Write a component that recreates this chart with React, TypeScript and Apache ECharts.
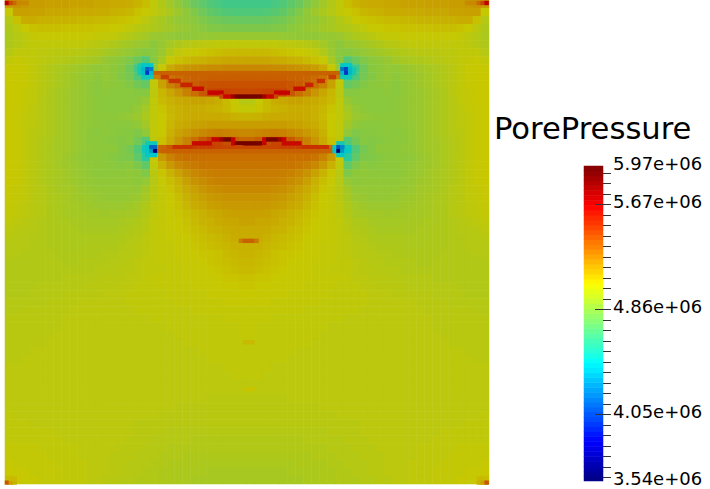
import React, { useEffect, useRef } from "react";
import * as echarts from "echarts";

// Pressure readings in units of 1e4 Pa. The field is mirror-symmetric about x≈247, so each row holds the left half.
const leftHalfRows: number[][] = [
[520,522,520,519,519,518,518,518,517,517,517,516,516,515,515,514,512,509,503,499,494,489,484,478,474,470,467,465,465,465],
[505,518,518,517,517,516,516,516,515,515,515,514,514,513,512,511,508,505,503,500,497,493,489,484,479,475,472,470,469,469],
[500,508,514,514,513,513,512,512,512,511,511,510,510,509,508,507,505,502,499,496,493,490,489,487,484,481,479,478,477,477],
[498,502,506,508,509,509,509,508,508,508,508,507,507,506,505,503,501,499,498,496,494,492,491,489,487,485,484,483,483,483],
[497,500,502,504,505,505,505,505,505,505,505,504,504,503,501,499,497,495,492,491,490,489,489,489,490,490,491,491,491,491],
[498,500,502,503,503,503,503,503,503,503,502,501,500,498,496,494,492,491,488,491,495,498,500,501,502,502,503,503,503,503],
[500,503,503,503,502,502,501,501,501,500,499,498,496,494,492,490,488,486,487,492,499,503,505,506,507,508,509,510,510,510],
[503,505,504,503,502,501,500,499,498,497,496,494,491,489,487,484,478,470,486,496,505,508,510,512,513,514,515,516,516,516],
[505,506,505,503,501,499,497,496,494,493,491,489,490,488,486,479,465,452,490,505,515,519,521,522,523,524,524,525,525,525],
[506,506,505,503,501,499,497,495,493,491,490,488,490,488,485,481,470,462,504,522,531,534,536,537,537,538,538,538,538,538],
[506,506,505,503,501,499,497,495,493,491,489,487,489,488,487,485,480,476,503,517,527,533,537,539,541,542,542,542,542,542],
[506,506,504,503,501,498,496,494,492,491,489,487,488,487,487,487,486,486,502,511,516,521,527,533,540,546,547,547,546,545],
[506,506,504,503,500,498,496,494,492,491,489,488,487,487,487,487,488,491,503,510,513,515,516,517,517,516,514,510,505,500],
[506,505,504,502,500,498,496,494,492,491,489,488,487,487,487,488,490,495,503,507,511,513,514,514,514,513,512,510,507,504],
[506,505,503,502,500,498,496,494,492,491,489,488,488,488,489,490,492,497,503,506,510,513,514,515,515,515,515,514,513,512],
[506,505,503,502,500,498,496,494,492,490,489,488,488,487,487,487,489,494,503,506,511,514,516,517,518,519,519,519,519,519],
[506,505,503,501,500,498,496,494,492,490,488,487,488,487,486,486,484,489,503,506,513,517,520,523,525,527,528,527,526,525],
[506,505,503,501,499,497,495,494,492,490,488,488,487,486,485,486,480,470,502,508,515,521,527,533,540,546,546,542,538,535],
[506,505,503,501,499,497,495,494,492,490,489,488,488,488,485,481,470,450,495,535,540,545,548,548,548,548,546,545,545,545],
[506,505,503,501,499,497,495,493,491,489,488,488,487,486,484,483,474,458,505,520,527,531,533,533,533,533,533,533,533,533],
[506,505,503,501,499,497,495,493,492,490,489,488,488,487,486,487,483,474,503,513,520,525,528,530,531,531,531,531,531,531],
[506,505,503,501,499,497,496,494,492,491,489,488,488,488,488,489,488,484,501,507,512,517,522,525,527,528,529,529,529,529],
[506,505,503,501,499,497,496,494,493,491,490,489,489,489,489,489,488,490,500,505,509,513,518,522,524,526,527,527,527,527],
[505,504,503,501,500,498,496,495,494,492,491,490,490,490,490,490,490,494,501,504,507,511,515,518,521,523,524,525,525,525],
[505,504,503,501,500,498,497,496,494,493,492,491,490,490,490,491,492,496,501,504,506,509,513,516,518,520,521,522,522,522],
[504,503,502,501,500,498,497,496,495,494,493,492,492,492,492,493,495,498,502,504,506,508,511,514,516,518,519,520,520,520],
[504,503,502,501,500,498,497,496,495,495,494,494,493,494,494,495,496,499,502,504,505,507,509,511,513,515,516,517,518,518],
[503,502,501,500,499,498,497,497,496,496,495,495,495,495,496,497,498,500,503,504,505,506,508,510,512,513,515,516,516,517],
[502,501,500,500,499,498,498,497,497,496,496,496,496,496,497,498,499,501,503,504,505,506,507,509,510,512,513,514,515,515],
[501,500,500,499,499,498,498,497,497,497,497,497,497,497,498,499,500,502,503,504,505,505,506,508,509,510,511,513,514,514],
[500,500,500,499,499,498,498,498,497,497,498,498,498,498,499,500,501,502,503,504,504,505,505,507,508,509,510,511,513,513],
[500,500,499,499,499,499,498,498,498,498,498,498,499,499,500,500,501,502,503,504,504,505,505,506,507,507,508,510,511,512],
[499,499,499,499,499,499,499,498,498,499,499,499,499,500,500,501,502,503,503,504,504,504,505,505,506,507,508,509,510,511],
[499,499,499,499,499,499,499,499,499,499,499,500,500,500,501,501,502,503,503,503,504,504,505,505,505,506,507,508,509,510],
[499,499,499,499,499,499,499,500,500,500,500,500,501,501,501,502,502,503,504,504,504,504,505,505,505,505,506,507,507,508],
[499,499,499,499,500,500,500,500,500,500,501,501,501,501,502,502,503,503,503,504,504,504,504,505,505,505,505,506,506,507],
[499,499,499,500,500,500,500,501,501,501,501,501,502,502,502,503,503,503,503,503,504,504,504,504,504,505,505,505,505,506],
[500,500,500,500,500,501,501,501,501,502,502,502,502,502,502,503,503,503,503,503,503,504,504,504,504,504,504,505,505,505],
[500,500,501,501,501,501,501,501,502,502,502,502,502,502,502,502,503,503,503,503,503,503,503,504,504,504,504,504,504,504],
[501,501,501,501,501,501,501,502,502,502,502,502,502,502,502,502,502,502,503,503,503,503,503,503,503,503,503,504,504,504],
[501,501,501,501,501,501,501,502,502,502,502,502,502,502,502,502,502,502,502,502,503,503,503,503,503,503,503,503,503,504],
[501,501,501,501,501,501,502,502,502,502,502,502,502,502,502,502,502,502,502,502,502,503,503,503,503,503,503,503,503,504],
[501,501,501,501,501,502,502,502,502,502,502,502,502,502,502,502,502,502,502,502,502,502,503,503,503,503,503,503,503,503],
[501,501,501,502,502,502,502,502,502,502,502,502,502,502,502,502,502,502,502,502,502,502,502,502,503,503,503,503,503,503],
[501,501,502,502,502,502,502,502,502,502,502,502,502,502,502,502,502,502,502,502,502,502,502,502,502,503,503,503,503,503],
[502,502,502,502,502,502,502,502,502,502,502,502,502,502,502,502,502,502,502,502,502,502,502,502,502,502,502,503,503,503],
[502,502,502,502,502,502,502,502,502,502,502,502,502,502,502,502,502,502,502,502,502,502,502,502,502,502,502,502,503,503],
[502,502,502,502,502,502,502,502,502,502,502,502,502,502,502,502,502,502,502,502,502,502,502,502,502,502,502,502,502,502],
[502,502,502,502,502,502,502,502,502,502,502,502,502,502,502,502,502,502,502,502,502,502,502,502,502,502,502,502,502,502],
[502,502,502,502,502,502,502,502,502,502,502,502,502,502,502,502,502,502,502,502,502,502,502,502,502,501,501,501,501,501],
[502,502,502,502,502,502,502,502,502,502,502,502,502,502,502,502,502,502,502,502,502,501,501,501,501,501,501,501,501,501],
[503,502,502,502,502,502,502,502,502,502,502,502,502,502,502,502,502,502,502,501,501,501,501,501,501,501,501,501,501,501],
[503,503,503,502,502,502,502,502,502,502,502,502,502,502,502,502,501,501,501,501,501,501,501,501,501,501,501,501,501,501],
[503,503,503,503,503,503,502,502,502,502,502,502,502,502,502,502,501,501,501,501,500,500,500,500,500,500,500,500,500,500],
[503,503,503,503,503,503,503,502,502,502,502,502,502,502,502,501,501,501,500,500,500,500,500,499,499,499,499,499,499,499],
[504,504,504,504,503,503,503,503,503,502,502,502,502,502,501,501,501,500,500,500,499,499,499,499,499,499,499,499,499,499],
[504,504,504,504,504,503,503,503,503,502,502,502,502,501,501,501,500,500,500,499,499,499,498,498,498,498,498,498,498,498],
[505,504,504,504,504,504,503,503,503,503,502,502,502,501,501,500,500,500,499,499,498,498,498,498,497,497,497,497,497,497],
[506,505,505,504,504,504,504,503,503,503,502,502,502,501,501,500,500,499,499,498,498,497,497,497,497,496,496,496,496,496],
[509,506,505,505,504,504,504,503,503,503,502,502,501,501,500,500,499,499,499,498,498,497,497,496,496,496,496,496,496,496],
];

// Fine-mesh features: [first column, last column, row, value in 1e4 Pa]
const upperCrackRuns: number[][] = [
[38,85,18,537],[38,39,19,528],[40,41,19,548],[83,84,19,548],[85,85,19,528],
[42,44,20,552],[80,81,20,552],[45,47,21,556],[77,78,21,556],[48,50,22,563],[74,76,22,563],
[52,55,23,567],[69,72,23,567],[55,55,24,545],[56,57,24,565],[58,58,24,580],[59,65,24,592],
[66,66,24,580],[67,68,24,565],[69,69,24,545],
];
const lowerCrackRuns: number[][] = [
[53,54,35,567],[55,55,35,580],[56,57,35,592],[58,58,35,567],[66,66,35,567],[67,69,35,590],[70,70,35,578],[71,71,35,567],
[48,52,36,564],[58,58,36,567],[59,65,36,592],[66,66,36,567],[71,75,36,564],
[43,47,37,552],[59,60,37,545],[66,67,37,545],[76,82,37,552],[40,83,38,537],
];
const wellSpotRuns: number[][] = [
[34,34,16,455],[35,37,16,445],[34,34,17,450],[35,35,17,440],[36,36,17,413],[37,37,17,422],
[34,34,18,452],[35,35,18,442],[36,36,18,400],[37,37,18,440],[35,37,19,450],
[86,88,16,445],[86,86,17,420],[87,87,17,405],[88,88,17,440],[89,89,17,450],
[86,86,18,440],[87,87,18,400],[88,88,18,440],[89,89,18,452],[86,88,19,450],
[36,38,36,450],[36,36,37,445],[37,38,37,415],[36,36,38,445],[37,37,38,430],[38,38,38,360],[36,38,39,445],
[85,86,36,450],[84,84,37,445],[85,85,37,410],[86,86,37,425],[84,84,38,445],[85,85,38,360],[86,86,38,430],[87,87,38,445],[85,86,39,445],
];
const smallMarkRuns: number[][] = [
[60,60,61,530],[61,63,61,537],[64,64,61,530],[61,63,87,510],[61,63,99,507],
[0,0,0,570],[1,1,0,545],[2,2,0,535],[3,5,0,525],[118,120,0,525],[121,121,0,535],[122,122,0,545],[123,123,0,570],
[0,0,123,540],[1,1,123,518],[2,2,123,512],[1,2,122,510],[121,122,122,510],[121,121,123,512],[122,122,123,518],[123,123,123,540],
];

const colorbarLevels = [356,360,364,367,371,375,379,383,386,390,394,398,402,405,409,413,417,421,424,428,432,436,440,443,447,451,455,459,462,466,470,474,478,481,485,489,493,497,500,504,508,512,516,519,523,527,531,535,538,542,546,550,554,557,561,565,569,573,576,580,584,588,592,595];
const majorTickValues = [567, 486, 405];
const minorTickValues = [591.3, 583.2, 575.1, 558.9, 550.8, 542.7, 534.6, 526.5, 518.4, 510.3, 502.2, 494.1, 477.9, 469.8, 461.7, 453.6, 445.5, 437.4, 429.3, 421.2, 413.1, 396.9, 388.8, 380.7, 372.6, 364.5, 356.4];
const labelValues = [597, 567, 486, 405, 354];
const labelTexts = ["5.97e+06", "5.67e+06", "4.86e+06", "4.05e+06", "3.54e+06"];
const titleText = "PorePressure";

const jetBright = ["#000080","#0000ff","#0080ff","#00ffff","#80ff80","#ffff00","#ff8000","#ff0000","#800000"];
const jetLit = ["#000064","#0000c8","#0064c8","#00c8c8","#64c864","#c8c800","#c86400","#c80000","#640000"];

const range = (n: number) => Array.from({ length: n }, (_, i) => String(i));

export default function App() {
  const ref = useRef<HTMLDivElement>(null);
  useEffect(() => {
    document.body.style.margin = "0";
    const chart = echarts.init(ref.current!, undefined, { renderer: "svg" });
    const rows = leftHalfRows.map((r) => [...r, ...[...r].reverse()]);
    const baseData: number[][] = [];
    rows.forEach((r, y) => r.forEach((v, x) => baseData.push([x, y, v])));
    const fineData: number[][] = [];
    [...upperCrackRuns, ...lowerCrackRuns, ...wellSpotRuns, ...smallMarkRuns].forEach(([a, b, y, v]) => {
      for (let x = a; x <= b; x++) fineData.push([x, y, v]);
    });
    const barData = colorbarLevels.map((v, i) => [0, i, v]);
    const hidden = { show: false };
    const heat = { type: "heatmap", progressive: 0, silent: true, emphasis: { disabled: true } };
    const tickRender = (_: any, api: any) => {
      const a = api.coord([api.value(0), api.value(1)]);
      const b = api.coord([1.42, api.value(1)]);
      const y = Math.round(a[1]) + 0.5;
      return {
        type: "line",
        shape: { x1: a[0], y1: y, x2: b[0], y2: y },
        style: { stroke: "#333333", lineWidth: 1 },
      };
    };
    chart.setOption({
      animation: false,
      backgroundColor: "#ffffff",
      title: {
        text: titleText, left: 489, top: 108,
        textStyle: { fontFamily: "DejaVu Sans", fontSize: 30.6, fontWeight: "normal", color: "#000" },
      },
      grid: [
        { left: 5, top: 0, width: 484, height: 484 },
        { left: 5, top: 1, width: 483.6, height: 483.6 },
        { left: 584, top: 166, width: 19, height: 315 },
        { left: 584, top: 165.4, width: 19, height: 315 },
        { left: 584, top: 163, width: 19, height: 315 },
      ],
      xAxis: [
        { type: "category", gridIndex: 0, data: range(60), ...hidden },
        { type: "category", gridIndex: 1, data: range(124), ...hidden },
        { type: "category", gridIndex: 2, data: ["0"], ...hidden },
        { type: "value", gridIndex: 3, min: 0, max: 1, ...hidden },
        { type: "value", gridIndex: 4, min: 0, max: 1, ...hidden },
      ],
      yAxis: [
        { type: "category", gridIndex: 0, data: range(60), inverse: true, ...hidden },
        { type: "category", gridIndex: 1, data: range(124), inverse: true, ...hidden },
        { type: "category", gridIndex: 2, data: range(colorbarLevels.length), ...hidden },
        { type: "value", gridIndex: 3, min: 354, max: 597, ...hidden },
        {
          type: "value", gridIndex: 4, position: "right", min: 354, max: 597,
          axisLine: { show: false }, splitLine: { show: false }, axisTick: { show: false },
          axisLabel: {
            show: true, margin: 10, customValues: labelValues, color: "#000",
            fontFamily: "DejaVu Sans", fontSize: 18,
            formatter: (v: number) => labelTexts[labelValues.indexOf(v)] ?? "",
          },
        },
      ],
      visualMap: [
        { type: "continuous", show: false, min: 354, max: 597, dimension: 2, seriesIndex: [0, 1], inRange: { color: jetLit } },
        { type: "continuous", show: false, min: 354, max: 597, dimension: 2, seriesIndex: [2], inRange: { color: jetBright } },
      ],
      series: [
        { ...heat, xAxisIndex: 0, yAxisIndex: 0, data: baseData, z: 1 },
        { ...heat, xAxisIndex: 1, yAxisIndex: 1, data: fineData, z: 2 },
        { ...heat, xAxisIndex: 2, yAxisIndex: 2, data: barData, z: 1 },
        { type: "custom", xAxisIndex: 3, yAxisIndex: 3, silent: true, clip: false, z: 5, encode: { x: 0, y: 1 },
          renderItem: tickRender, data: minorTickValues.map((v) => [1, v]) },
        { type: "custom", xAxisIndex: 3, yAxisIndex: 3, silent: true, clip: false, z: 5, encode: { x: 0, y: 1 },
          renderItem: tickRender, data: majorTickValues.map((v) => [0.58, v]) },
      ],
    });
    return () => chart.dispose();
  }, []);
  return <div ref={ref} style={{ position: "absolute", left: 0, top: 0, width: 710, height: 489 }} />;
}
